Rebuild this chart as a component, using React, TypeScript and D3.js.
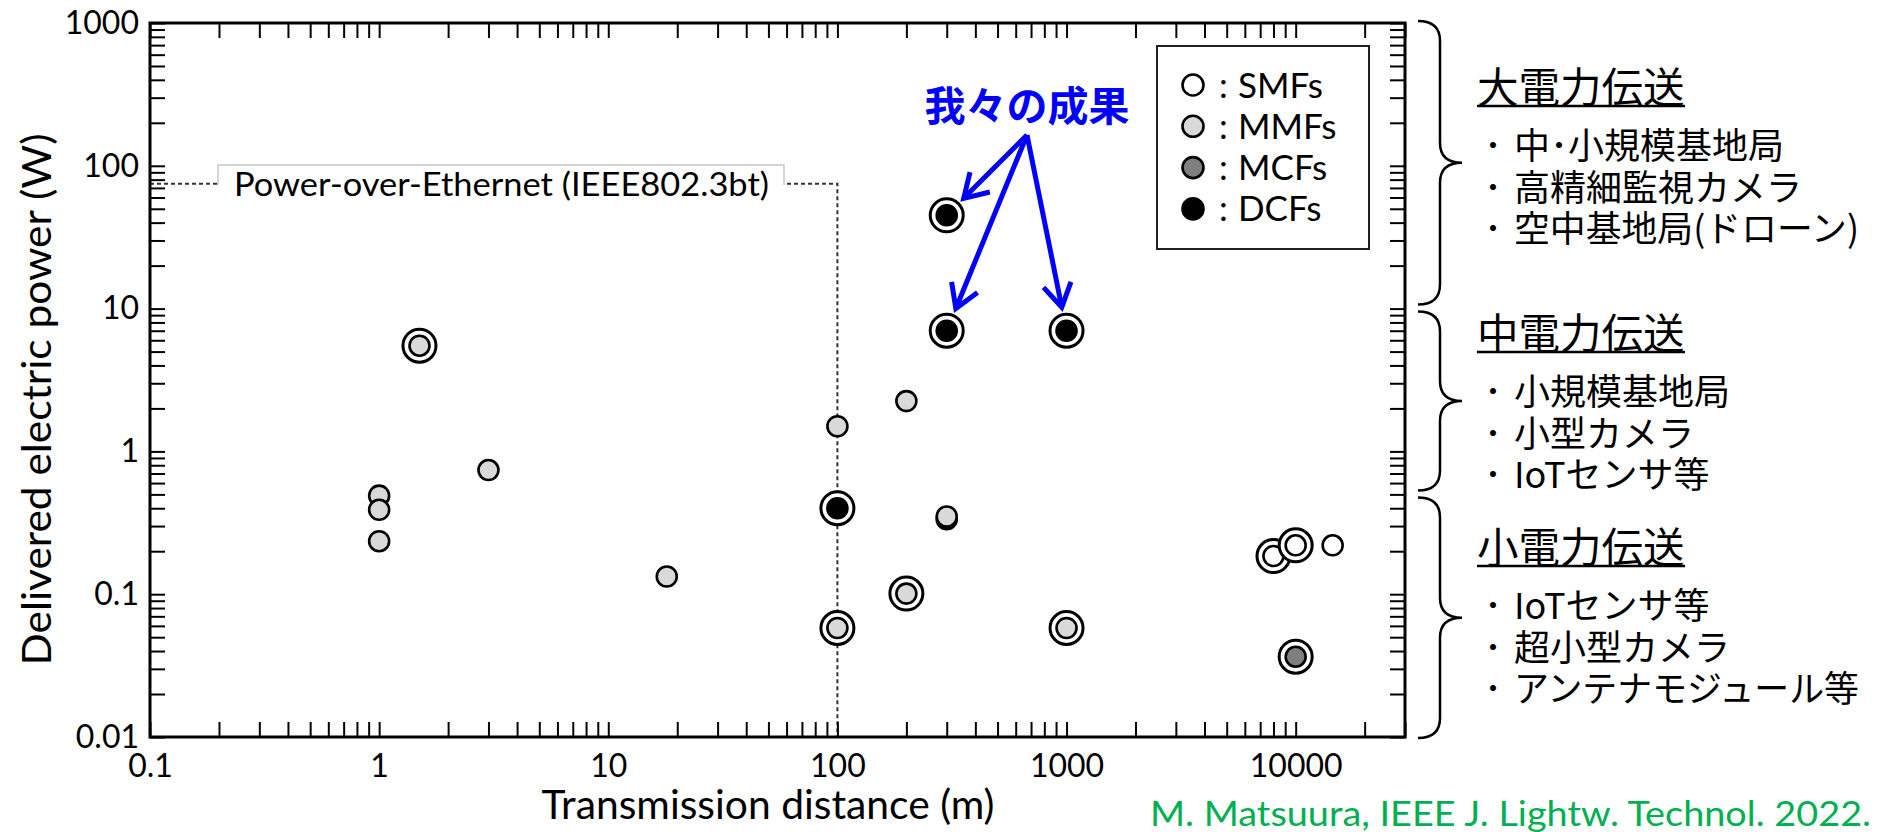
import React, { useEffect, useRef } from 'react';
import * as d3 from 'd3';

const W = 1878;
const H = 832;

// transmission distance (m) / delivered power (W); ring = double-circle marker
const smfPoints = [
  { x: 8000, y: 0.185, ring: true },
  { x: 10000, y: 0.22, ring: true },
  { x: 14500, y: 0.22, ring: false },
];
const mmfPoints = [
  { x: 1.5, y: 5.5, ring: true },
  { x: 1, y: 0.49, ring: false },
  { x: 1, y: 0.39, ring: false },
  { x: 1, y: 0.235, ring: false },
  { x: 3, y: 0.74, ring: false },
  { x: 18, y: 0.133, ring: false },
  { x: 100, y: 1.5, ring: false },
  { x: 200, y: 2.25, ring: false },
  { x: 200, y: 0.101, ring: true },
  { x: 100, y: 0.058, ring: true },
  { x: 1000, y: 0.058, ring: true },
  { x: 300, y: 0.35, ring: false },
];
const mcfPoints = [{ x: 10000, y: 0.0365, ring: true }];
const dcfPoints = [
  { x: 300, y: 45, ring: true },
  { x: 300, y: 7, ring: true },
  { x: 1000, y: 7, ring: true },
  { x: 100, y: 0.4, ring: true },
  { x: 300, y: 0.335, ring: false },
];

// "our results" arrows point at these
const ourResults = [
  { x: 300, y: 45 },
  { x: 300, y: 7 },
  { x: 1000, y: 7 },
];

const fiberTypes = ['SMFs', 'MMFs', 'MCFs', 'DCFs'];
const fiberFills = ['#FFFFFF', '#D9D9D9', '#7F7F7F', '#000000'];

const xDecades = [0.1, 1, 10, 100, 1000, 10000];
const xDecadeLabels = ['0.1', '1', '10', '100', '1000', '10000'];
const yDecades = [0.01, 0.1, 1, 10, 100, 1000];
const yDecadeLabels = ['0.01', '0.1', '1', '10', '100', '1000'];

// PoE (IEEE802.3bt) limit
const poeDistance = 100;
const poePower = 75;

const classTitles = ['大電力伝送', '中電力伝送', '小電力伝送'];
const classRanges = [[10, 1000], [0.5, 10], [0.01, 0.5]];
const classItems = [
  ['中･小規模基地局', '高精細監視カメラ', '空中基地局(ドローン)'],
  ['小規模基地局', '小型カメラ', 'IoTセンサ等'],
  ['IoTセンサ等', '超小型カメラ', 'アンテナモジュール等'],
];

const LATIN = 'Lato, "Open Sans", sans-serif';
const CJK = '"Noto Sans CJK JP", sans-serif';

const x = d3.scaleLog().domain([0.1, 30000]).range([150, 1405]);
const y = d3.scaleLog().domain([0.01, 1000]).range([737, 23]);

const labelFor = (vals, labels) => (d) => {
  const i = vals.findIndex(v => Math.abs(v - d) < v * 1e-6);
  return i >= 0 ? labels[i] : '';
};

const Marker = ({ p, fill }) => {
  const cx = x(p.x);
  const cy = y(p.y);
  return (
    <g>
      {p.ring && <circle cx={cx} cy={cy} r={16.5} fill="#fff" stroke="#000" strokeWidth={3} />}
      <circle cx={cx} cy={cy} r={10} fill={fill} stroke="#000" strokeWidth={2.6} />
    </g>
  );
};

const brace = (top, bottom) => {
  const x0 = 1418, x1 = 1440, x2 = 1462, r = 20;
  const mid = (top + bottom) / 2;
  return `M${x0},${top} Q${x1},${top} ${x1},${top + r} L${x1},${mid - r} Q${x1},${mid} ${x2},${mid}` +
    ` Q${x1},${mid} ${x1},${mid + r} L${x1},${bottom - r} Q${x1},${bottom} ${x0},${bottom}`;
};

export default function App() {
  const bottomRef = useRef(null);
  const leftRef = useRef(null);
  const topRef = useRef(null);
  const rightRef = useRef(null);

  useEffect(() => {
    const style = (g, withText) => {
      g.select('.domain').remove();
      g.selectAll('.tick line').attr('stroke', '#000').attr('stroke-width', 2);
      g.attr('font-family', LATIN).attr('font-size', 32);
      g.selectAll('.tick text').attr('fill', '#000');
      if (!withText) g.selectAll('.tick text').remove();
    };

    d3.select(bottomRef.current)
      .call(d3.axisBottom(x).tickValues(x.ticks()).tickSizeInner(-15).tickSizeOuter(0)
        .tickPadding(17).tickFormat(labelFor(xDecades, xDecadeLabels)))
      .call(g => style(g, true));

    d3.select(leftRef.current)
      .call(d3.axisLeft(y).tickValues(y.ticks()).tickSizeInner(-15).tickSizeOuter(0)
        .tickPadding(11).tickFormat(labelFor(yDecades, yDecadeLabels)))
      .call(g => style(g, true));

    d3.select(topRef.current)
      .call(d3.axisTop(x).tickValues(x.ticks()).tickSizeInner(-15).tickSizeOuter(0))
      .call(g => style(g, false));

    d3.select(rightRef.current)
      .call(d3.axisRight(y).tickValues(y.ticks()).tickSizeInner(-15).tickSizeOuter(0))
      .call(g => style(g, false));
  }, []);

  const [xl, xr] = x.range();
  const [yb, yt] = y.range();

  // arrows from the label toward our results
  const origin = { x: 1027, y: 135 };
  const arrows = ourResults.map(p => {
    const tx = x(p.x), ty = y(p.y);
    const dx = origin.x - tx, dy = origin.y - ty;
    const len = Math.hypot(dx, dy);
    return { x2: tx + dx / len * 24, y2: ty + dy / len * 24 };
  });

  const titleY = [85, 331, 545];
  const itemOffsets = [58, 100, 141];

  return (
    <svg width={W} height={H} style={{ position: 'absolute', left: 0, top: 0, background: '#fff' }}>
      <defs>
        <marker id="arrowHead" markerUnits="userSpaceOnUse" markerWidth={40} markerHeight={40}
          viewBox="-30 -20 40 40" refX={0} refY={0} orient="auto">
          <path d="M-23,-14 L0,0 L-23,14" fill="none" stroke="#0000FF" strokeWidth={5} />
        </marker>
      </defs>
      <rect width={W} height={H} fill="#fff" />

      {/* PoE limit */}
      <path d={`M${xl},${y(poePower)} H${x(poeDistance)} V${yb}`} fill="none" stroke="#333"
        strokeWidth={2} strokeDasharray="4 3" />
      <rect x={218} y={165} width={566} height={42} fill="#fff" />
      <path d="M218,185 V165 H784 V185" fill="none" stroke="#c8c8c8" strokeWidth={1.5} />
      <text x={234} y={196} fontFamily={LATIN} fontSize={32} textLength={535}
        lengthAdjust="spacingAndGlyphs" fill="#000">Power-over-Ethernet (IEEE802.3bt)</text>

      {/* axes */}
      <g ref={bottomRef} transform={`translate(0,${yb})`} />
      <g ref={leftRef} transform={`translate(${xl},0)`} />
      <g ref={topRef} transform={`translate(0,${yt})`} />
      <g ref={rightRef} transform={`translate(${xr},0)`} />
      <rect x={xl} y={yt} width={xr - xl} height={yb - yt} fill="none" stroke="#000" strokeWidth={3} />

      {/* data */}
      {dcfPoints.map((p, i) => <Marker key={'d' + i} p={p} fill={fiberFills[3]} />)}
      {mmfPoints.map((p, i) => <Marker key={'m' + i} p={p} fill={fiberFills[1]} />)}
      {mcfPoints.map((p, i) => <Marker key={'c' + i} p={p} fill={fiberFills[2]} />)}
      {smfPoints.map((p, i) => <Marker key={'s' + i} p={p} fill={fiberFills[0]} />)}

      {/* axis titles */}
      <text x={768} y={819} textAnchor="middle" fontFamily={LATIN} fontSize={40} textLength={453}
        lengthAdjust="spacingAndGlyphs" fill="#000">Transmission distance (m)</text>
      <text transform="translate(51,399.5) rotate(-90)" textAnchor="middle" fontFamily={LATIN}
        fontSize={40} textLength={532} lengthAdjust="spacingAndGlyphs" fill="#000">
        Delivered electric power (W)</text>

      {/* legend */}
      <rect x={1157} y={46} width={212} height={203} fill="#fff" stroke="#231f20" strokeWidth={2} />
      {fiberTypes.map((t, i) => {
        const cy = 85 + i * 41.3;
        return (
          <g key={t}>
            <circle cx={1193} cy={cy} r={10.5} fill={fiberFills[i]} stroke="#000" strokeWidth={2.6} />
            <text y={cy + 12.5} fontFamily={LATIN} fontSize={35} fill="#000">
              <tspan x={1219}>:</tspan><tspan x={1238}>{t}</tspan>
            </text>
          </g>
        );
      })}

      {/* our results */}
      <text x={1027} y={121} textAnchor="middle" fontFamily={CJK} fontWeight={700} fontSize={41}
        fill="#0000FF">我々の成果</text>
      {arrows.map((a, i) => (
        <line key={i} x1={origin.x} y1={origin.y} x2={a.x2} y2={a.y2} stroke="#0000FF"
          strokeWidth={5} markerEnd="url(#arrowHead)" />
      ))}

      {/* power classes */}
      {classRanges.map((r, i) => {
        const top = i === 0 ? y(r[1]) - 2 : y(r[1]) + 3;
        const bottom = i === 2 ? y(r[0]) + 1 : y(r[0]) - 4;
        return <path key={i} d={brace(top, bottom)} fill="none" stroke="#000" strokeWidth={2.5} />;
      })}
      {classTitles.map((t, i) => (
        <g key={t}>
          <text x={1477} y={titleY[i]} dominantBaseline="central" fontFamily={CJK} fontSize={41.5}
            fill="#000">{t}</text>
          <line x1={1477} x2={1685} y1={titleY[i] + 21} y2={titleY[i] + 21} stroke="#000" strokeWidth={2.5} />
          <text dominantBaseline="central" fontFamily={CJK} fontSize={36} fill="#000">
            {classItems[i].map((s, j) => (
              <React.Fragment key={j}>
                <tspan x={1484} y={titleY[i] + itemOffsets[j]}>･</tspan>
                <tspan x={1514} y={titleY[i] + itemOffsets[j]}
                  {...(s.length >= 10 ? { textLength: 345, lengthAdjust: 'spacingAndGlyphs' } : {})}>{s}</tspan>
              </React.Fragment>
            ))}
          </text>
        </g>
      ))}

      {/* citation */}
      <text x={1150} y={826} fontFamily={LATIN} fontSize={34} textLength={721}
        lengthAdjust="spacingAndGlyphs" fill="#00B050">M. Matsuura, IEEE J. Lightw. Technol. 2022.</text>
    </svg>
  );
}
